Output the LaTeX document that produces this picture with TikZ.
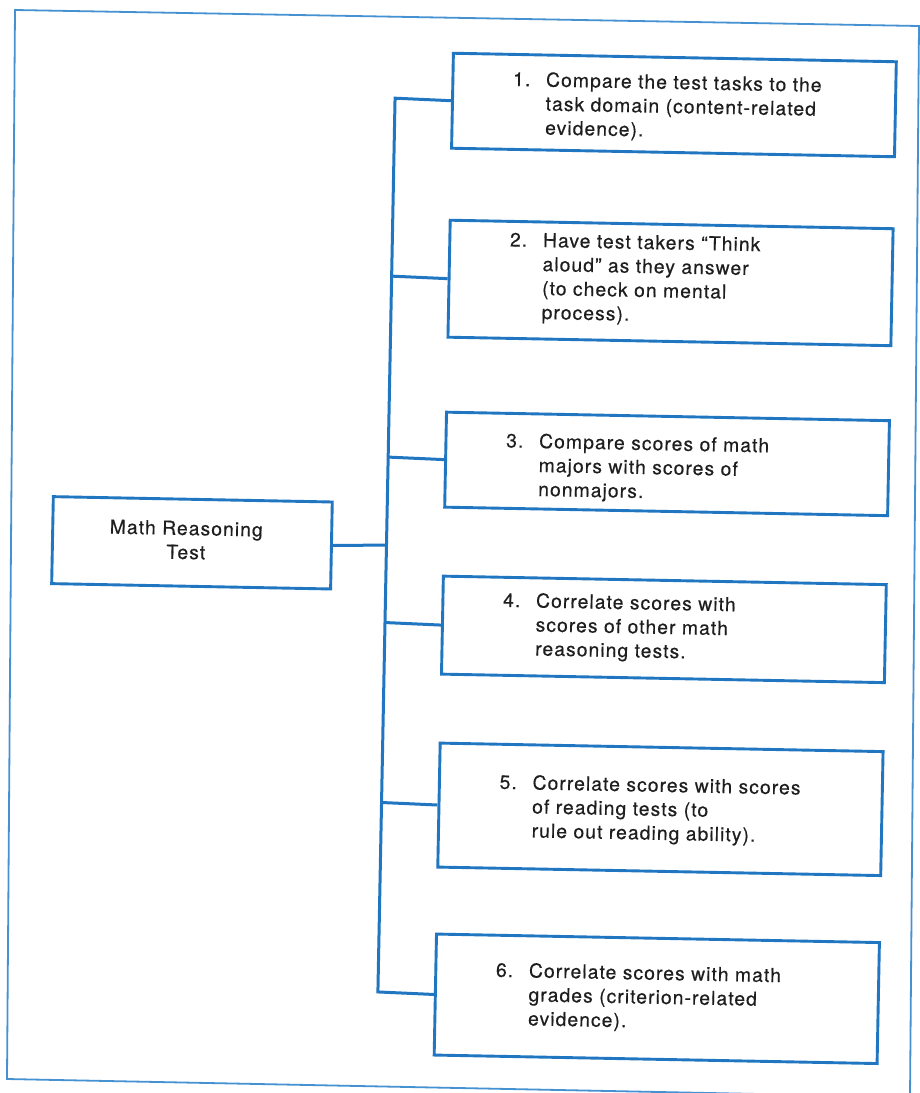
\documentclass[tikz,border=0pt]{standalone}
\usepackage{fontspec}
\setmainfont[LetterSpace=5.5,FakeBold=0.4]{TeX Gyre Heros}
\definecolor{lineblue}{RGB}{32,118,192}
\definecolor{frameblue}{RGB}{70,145,210}
\definecolor{ink}{RGB}{30,30,30}
\newcommand\itm[1]{\makebox[33pt][l]{#1}}
\begin{document}
\begin{tikzpicture}[x=1pt,y=-1pt,
  box/.style={draw=lineblue, line width=2.9pt, anchor=north west, inner sep=0pt, minimum width=443},
  txt/.style={inner sep=0pt, anchor=base west, text=ink, font=\fontsize{19.3}{24}\selectfont},
  conn/.style={draw=lineblue, line width=3pt}]
\useasboundingbox (0,0) rectangle (920,1093);
\fill[white] (0,0) rectangle (920,1093);
\draw[frameblue, line width=1.8pt] (15,10) -- (919,26) -- (910,1097) -- (7,1079) -- cycle;
\begin{scope}[rotate around={-1.1:(460,546)}, transform shape]
  % boxes
  \node[box, minimum width=279, minimum height=87] (m) at (51,503) {};
  \node[box, minimum height=95]  (b1) at (442.5,52) {};
  \node[box, minimum height=117] (b2) at (442.5,219) {};
  \node[box, minimum height=95]  (b3) at (442.5,411) {};
  \node[box, minimum height=98]  (b4) at (442.5,575) {};
  \node[box, minimum height=124] (b5) at (442.5,742) {};
  \node[box, minimum height=121] (b6) at (442.5,933) {};
  % texts
  \node[txt, anchor=base] (mt) at (186,540.3) {\begin{tabular}[t]{@{}c@{}}Math Reasoning\\Test\end{tabular}};
  \node[txt] (t1) at (504,85) {\begin{tabular}[t]{@{}l@{}}\itm{1.}Compare the test tasks to the\\\itm{}task domain (content-related\\\itm{}evidence).\end{tabular}};
  \node[txt] (t2) at (504,245.5) {\begin{tabular}[t]{@{}l@{}}\itm{2.}Have test takers ``Think\\\itm{}aloud'' as they answer\\\itm{}(to check on mental\\\itm{}process).\end{tabular}};
  \node[txt] (t3) at (504,446.5) {\begin{tabular}[t]{@{}l@{}}\itm{3.}Compare scores of math\\\itm{}majors with scores of\\\itm{}nonmajors.\end{tabular}};
  \node[txt] (t4) at (504,606) {\begin{tabular}[t]{@{}l@{}}\itm{4.}Correlate scores with\\\itm{}scores of other math\\\itm{}reasoning tests.\end{tabular}};
  \node[txt] (t5) at (504,788) {\begin{tabular}[t]{@{}l@{}}\itm{5.}Correlate scores with scores\\\itm{}of reading tests (to\\\itm{}rule out reading ability).\end{tabular}};
  \node[txt] (t6) at (504,976) {\begin{tabular}[t]{@{}l@{}}\itm{6.}Correlate scores with math\\\itm{}grades (criterion-related\\\itm{}evidence).\end{tabular}};
  % junctions on the trunk
  \coordinate (j1) at (386.5,99.5);
  \coordinate (j2) at (386.5,277.5);
  \coordinate (j3) at (386.5,458.5);
  \coordinate (j4) at (386.5,624);
  \coordinate (jm) at (386.5,546.5);
  \coordinate (j5) at (386.5,804);
  \coordinate (j6) at (386.5,993.5);
  % connectors
  \draw[conn] (b1.west) -- (j1) -- (j6) -- (b6.west);
  \draw[conn] (j2) -- (b2.west);
  \draw[conn] (j3) -- (b3.west);
  \draw[conn] (j4) -- (b4.west);
  \draw[conn] (j5) -- (b5.west);
  \draw[conn] (m.east) -- (jm);
\end{scope}
\end{tikzpicture}
\end{document}
